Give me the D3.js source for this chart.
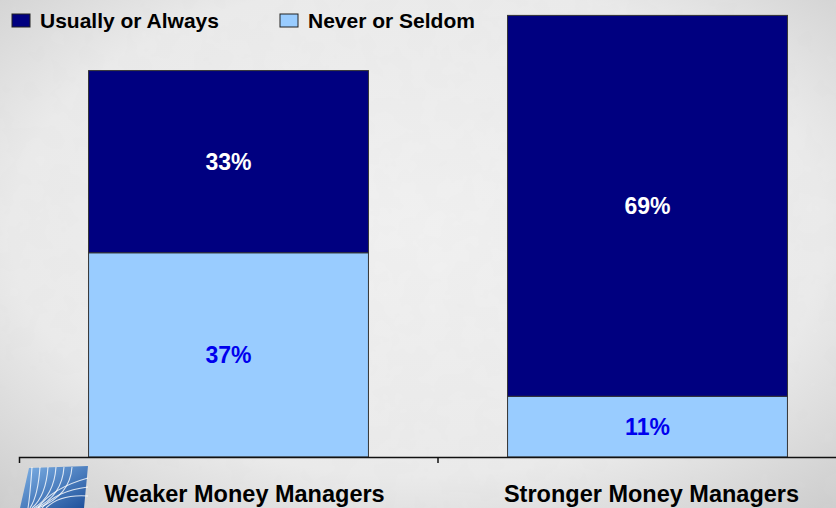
<!DOCTYPE html>
<html>
<head>
<meta charset="utf-8">
<script src="https://cdn.jsdelivr.net/npm/d3@7"></script>
<style>
  html, body { margin: 0; padding: 0; }
  body { width: 836px; height: 508px; overflow: hidden; }
  text { font-family: Arial, "Liberation Sans", sans-serif; font-weight: bold; }
</style>
</head>
<body>
<div id="chart"></div>
<script>
// data
var categories = ["Weaker Money Managers", "Stronger Money Managers"]
var seriesNames = ["Never or Seldom", "Usually or Always"]
var neverSeldom = [37, 11]
var usuallyAlways = [33, 69]

var colors = { "Usually or Always": "#000080", "Never or Seldom": "#99ccff" }
var labelColors = { "Usually or Always": "#ffffff", "Never or Seldom": "#0000ee" }
var labelShift = [16, 4] // category labels sit a bit right of the bar centres

var width = 836, height = 508

var svg = d3.select("#chart").append("svg")
  .attr("width", width)
  .attr("height", height)

// background with a soft vignette
var defs = svg.append("defs")
var grad = defs.append("radialGradient").attr("id", "bg")
  .attr("cx", "50%").attr("cy", "45%").attr("r", "75%")
grad.append("stop").attr("offset", "0%").attr("stop-color", "#f1f1f1")
grad.append("stop").attr("offset", "65%").attr("stop-color", "#ebebeb")
grad.append("stop").attr("offset", "100%").attr("stop-color", "#cdcdcd")

var noise = defs.append("filter").attr("id", "noise")
noise.append("feTurbulence").attr("type", "fractalNoise")
  .attr("baseFrequency", "0.04").attr("numOctaves", 3).attr("result", "t")
noise.append("feColorMatrix").attr("type", "matrix")
  .attr("values", "0 0 0 0 0.5  0 0 0 0 0.5  0 0 0 0 0.5  0 0 0 0.06 0")

svg.append("rect").attr("width", width).attr("height", height).attr("fill", "url(#bg)")
svg.append("rect").attr("width", width).attr("height", height).attr("filter", "url(#noise)")

// scales
var x = d3.scaleBand()
  .domain(categories)
  .range([19, 857])
  .paddingInner(0.332)
  .paddingOuter(0.166)

var y = d3.scaleLinear()
  .domain([0, 80])
  .range([457, 15.4])

var table = categories.map(function(c, i) {
  return { cat: c, "Never or Seldom": neverSeldom[i], "Usually or Always": usuallyAlways[i] }
})
var stacked = d3.stack().keys(seriesNames)(table)

var g = svg.append("g")

var layers = g.selectAll(".layer")
  .data(stacked)
  .enter().append("g")
  .attr("class", "layer")

layers.selectAll("rect")
  .data(function(d) { return d.map(function(p) { p.key = d.key; return p }) })
  .enter().append("rect")
  .attr("x", function(d) { return x(d.data.cat) })
  .attr("y", function(d) { return y(d[1]) })
  .attr("width", x.bandwidth())
  .attr("height", function(d) { return y(d[0]) - y(d[1]) })
  .attr("fill", function(d) { return colors[d.key] })
  .attr("stroke", "#333")
  .attr("stroke-width", 1)

layers.selectAll("text")
  .data(function(d) { return d })
  .enter().append("text")
  .attr("x", function(d) { return x(d.data.cat) + x.bandwidth() / 2 })
  .attr("y", function(d) { return (y(d[0]) + y(d[1])) / 2 })
  .attr("dy", "0.36em")
  .attr("text-anchor", "middle")
  .attr("font-size", 23)
  .attr("fill", function(d) { return labelColors[d.key] })
  .text(function(d) { return (d[1] - d[0]) + "%" })

// x axis: line at the base, ticks between categories
var axis = g.append("g")
  .attr("transform", "translate(0," + y(0) + ")")
  .call(d3.axisBottom(x).tickSize(0).tickSizeOuter(6).tickPadding(28))

axis.select(".domain").attr("stroke", "#111").attr("stroke-width", 1.5)
axis.selectAll(".tick text")
  .attr("font-size", 23.5)
  .attr("fill", "#000")
  .attr("dx", function(d, i) { return labelShift[i] })
  .style("font-family", "Arial, 'Liberation Sans', sans-serif")
  .style("font-weight", "bold")

axis.selectAll(".sep")
  .data(categories.slice(1))
  .enter().append("line")
  .attr("class", "sep")
  .attr("x1", function(d) { return x(d) - x.step() * x.paddingInner() / 2 })
  .attr("x2", function(d) { return x(d) - x.step() * x.paddingInner() / 2 })
  .attr("y1", 0).attr("y2", 6)
  .attr("stroke", "#111").attr("stroke-width", 1.5)

// legend
var legendItems = [
  { name: "Usually or Always", x: 12 },
  { name: "Never or Seldom", x: 280 }
]
var legend = svg.selectAll(".legend")
  .data(legendItems)
  .enter().append("g")
  .attr("class", "legend")
  .attr("transform", function(d) { return "translate(" + d.x + ",14)" })

legend.append("rect")
  .attr("width", 18).attr("height", 13)
  .attr("fill", function(d) { return colors[d.name] })
  .attr("stroke", "#222")

legend.append("text")
  .attr("x", 28).attr("y", 13.5)
  .attr("font-size", 21)
  .attr("fill", "#000")
  .text(function(d) { return d.name })

// small fan logo bottom left
var logo = svg.append("g").attr("transform", "translate(20,466)")
var lg = defs.append("linearGradient").attr("id", "logoGrad")
  .attr("x1", "0").attr("y1", "0").attr("x2", "1").attr("y2", "1")
lg.append("stop").attr("offset", "0%").attr("stop-color", "#7fb2e6")
lg.append("stop").attr("offset", "100%").attr("stop-color", "#1d4f9a")
logo.append("path")
  .attr("d", "M9,2 L68,0 L64,42 L0,42 Z")
  .attr("fill", "url(#logoGrad)")
d3.range(6).forEach(function(i) {
  var sx = 12 + i * 8
  logo.append("path")
    .attr("d", "M" + sx + ",1 Q" + (sx - 2) + ",30 " + (8 + i * 2) + ",42")
    .attr("fill", "none").attr("stroke", "#fff").attr("stroke-width", 1.1).attr("opacity", 0.8)
})
d3.range(3).forEach(function(i) {
  logo.append("path")
    .attr("d", "M" + (18 + i * 4) + ",42 Q" + (32 + i * 4) + "," + (22 + i * 3) + " 68," + (12 + i * 9))
    .attr("fill", "none").attr("stroke", "#fff").attr("stroke-width", 1.1).attr("opacity", 0.8)
})
</script>
</body>
</html>
